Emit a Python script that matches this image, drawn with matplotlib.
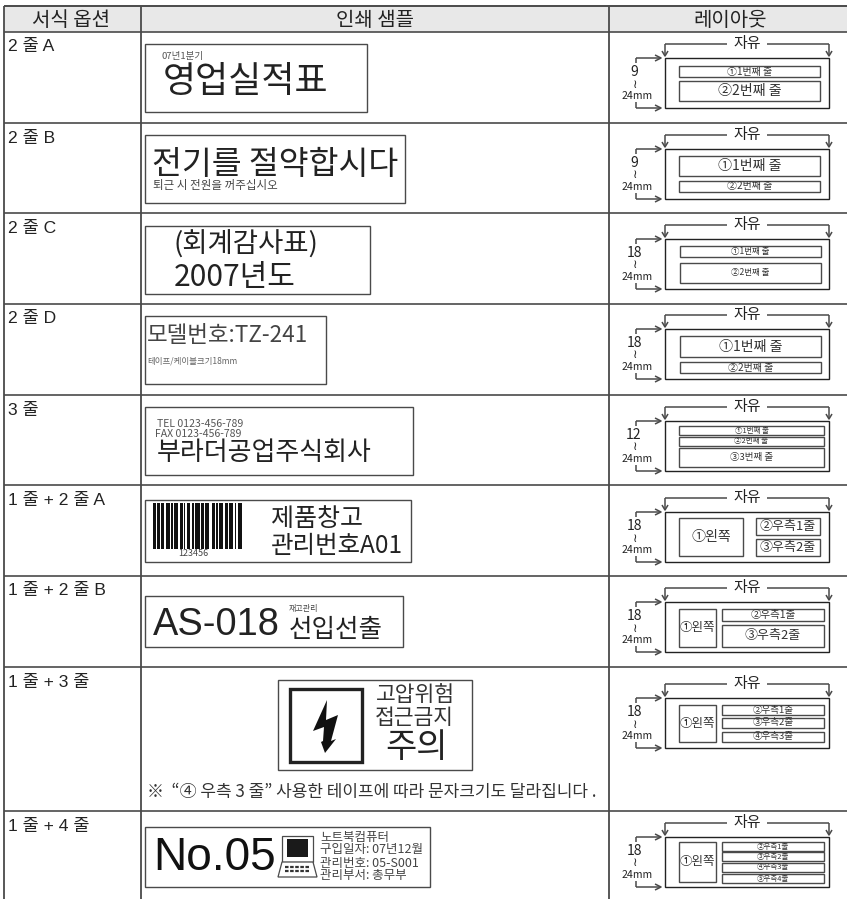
import matplotlib
matplotlib.use("Agg")
import matplotlib.pyplot as plt
from matplotlib.patches import Rectangle, Polygon

plt.rcParams['font.family'] = ['Noto Sans CJK KR', 'DejaVu Sans']

W, H = 847, 899
KR = ['Noto Sans CJK KR', 'DejaVu Sans']
LATIN = ['Liberation Sans', 'Noto Sans CJK KR', 'DejaVu Sans']
LINE = "#4a4a4a"
DARK = "#222222"

# table text
headers = ["서식 옵션", "인쇄 샘플", "레이아웃"]
row_labels = ["2 줄 A", "2 줄 B", "2 줄 C", "2 줄 D", "3 줄",
              "1 줄 + 2 줄 A", "1 줄 + 2 줄 B", "1 줄 + 3 줄", "1 줄 + 4 줄"]
min_sizes = ["9", "9", "18", "18", "12", "18", "18", "18", "18"]
note = "※  “④ 우측 3 줄” 사용한 테이프에 따라 문자크기도 달라집니다 ."
free_label = "자유"
max_size = "24mm"

# sample label text
sample_a = ["07년1분기", "영업실적표"]
sample_b = ["전기를 절약합시다", "퇴근 시 전원을 꺼주십시오"]
sample_c = ["(회계감사표)", "2007년도"]
sample_d = ["모델번호:TZ-241", "테이프/케이블크기18mm"]
sample_3 = ["TEL 0123-456-789", "FAX 0123-456-789", "부라더공업주식회사"]
sample_12a = ["123456", "제품창고", "관리번호A01"]
sample_12b = ["AS-018", "재고관리", "선입선출"]
sample_13 = ["고압위험", "접근금지", "주의"]
sample_14 = ["No.05", "노트북컴퓨터", "구입일자: 07년12월", "관리번호: 05-S001", "관리부서: 총무부"]
# black and white stripes in turn, black first
barcode_bars = [2, 1, 2, 1, 2, 1, 3, 1, 1, 1, 3, 1, 2, 1, 1, 1, 2, 2, 1, 1,
                3, 1, 2, 1, 3, 2, 2, 1, 1, 1, 3, 1, 2, 1, 3, 1, 1, 1, 3]

# layout cell text
layout_a = ["①1번째 줄", "②2번째 줄"]
layout_3 = ["①1번째 줄", "②2번째 줄", "③3번째 줄"]
layout_12 = ["①왼쪽", "②우측1줄", "③우측2줄"]
layout_13 = ["①왼쪽", "②우측1줄", "③우측2줄", "④우측3줄"]
layout_14 = ["①왼쪽", "②우측1줄", "③우측2줄", "④우측3줄", "⑤우측4줄"]

# geometry, pixels
row_lines = [32, 123, 213, 304, 395, 485, 576, 667, 811]
box_tops = [58, 149, 239, 329, 421, 512, 602, 698, 837]

fig = plt.figure(figsize=(W / 100, H / 100), dpi=100)
ax = fig.add_axes([0, 0, 1, 1])
ax.set_xlim(0, W)
ax.set_ylim(H, 0)
ax.axis("off")


def put(x, y, s, size, ha="left", fam=KR, color=DARK, **kw):
    # size is in pixels, matplotlib wants points
    ax.text(x, y, s, fontsize=size * 0.72, ha=ha, va="center", family=fam, color=color, **kw)


def box(x0, y0, x1, y1, lw=1.0, ec=LINE, fc="none", z=2):
    ax.add_patch(Rectangle((x0, y0), x1 - x0, y1 - y0, lw=lw, ec=ec, fc=fc, zorder=z))


def line(xs, ys, lw=1.1, c=LINE):
    ax.plot(xs, ys, color=c, lw=lw, solid_capstyle="butt", zorder=3)


# table frame
ax.add_patch(Rectangle((4, 6), W - 4, 26, fc="#e8e8e8", ec="none", zorder=0))
line([4, W], [6, 6], 1.4)
for y in row_lines:
    line([4, W], [y, y], 1.2)
for x in [4, 141, 609]:
    line([x, x], [6, H], 1.3)

put(71, 20, headers[0], 20, "center")
put(375, 20, headers[1], 20, "center")
put(730, 20, headers[2], 20, "center")
for y, lab in zip(row_lines, row_labels):
    put(8, y + 15, lab, 17.5, fam=LATIN)


# layout column
def layout(top, size, free_x=747):
    bot = top + 50
    box(665, top, 829, bot, lw=1.0, ec="#222222")
    put(free_x, top - 14, free_label, 15, "center")
    line([665, free_x - 20], [top - 14, top - 14])
    line([free_x + 20, 829], [top - 14, top - 14])
    for x in [665, 829]:
        line([x, x], [top - 14, top - 2])
        line([x - 3, x, x + 3], [top - 7, top - 2, top - 7])
    line([636, 636], [top, top + 5])
    line([636, 636], [bot - 6, bot])
    for y in [top, bot]:
        line([636, 660], [y, y])
        line([655, 661, 655], [y - 3, y, y + 3])
    put(634, top + 14, size, 14, "center")
    put(635, top + 26, "≀", 12, "center", fam=['DejaVu Sans'])
    put(637, top + 38, max_size, 10.5, "center")


def cell(top, x0, x1, y0, y1, s, size):
    box(x0, top + y0, x1, top + y1)
    put((x0 + x1) / 2, top + (y0 + y1) / 2, s, size, "center", color="#333333")


for t, s in zip(box_tops, min_sizes):
    layout(t, s)

t = box_tops[0]
cell(t, 679, 820, 8, 19, layout_a[0], 10)
cell(t, 679, 820, 23, 43, layout_a[1], 14)
t = box_tops[1]
cell(t, 679, 820, 7, 27, layout_a[0], 14)
cell(t, 679, 820, 32, 43, layout_a[1], 10)
t = box_tops[2]
cell(t, 680, 821, 7, 18, layout_a[0], 8.5)
cell(t, 680, 821, 24, 44, layout_a[1], 8.5)
t = box_tops[3]
cell(t, 680, 821, 7, 28, layout_a[0], 14)
cell(t, 680, 821, 33, 44, layout_a[1], 10)
t = box_tops[4]
cell(t, 679, 824, 5, 14, layout_3[0], 7.5)
cell(t, 679, 824, 16, 25, layout_3[1], 7.5)
cell(t, 679, 824, 27, 46, layout_3[2], 9.5)
t = box_tops[5]
cell(t, 679, 743, 6, 44, layout_12[0], 14)
cell(t, 756, 820, 6, 23, layout_12[1], 13)
cell(t, 756, 820, 27, 44, layout_12[2], 13)
t = box_tops[6]
cell(t, 679, 716, 7, 45, layout_12[0], 12.5)
cell(t, 722, 824, 7, 19, layout_12[1], 10.5)
cell(t, 722, 824, 23, 45, layout_12[2], 13)
t = box_tops[7]
cell(t, 679, 716, 7, 44, layout_13[0], 12.5)
cell(t, 722, 824, 7, 17, layout_13[1], 9.5)
cell(t, 722, 824, 20, 30, layout_13[2], 9.5)
cell(t, 722, 824, 34, 44, layout_13[3], 9.5)
t = box_tops[8]
cell(t, 679, 716, 5, 45, layout_14[0], 12.5)
cell(t, 722, 824, 5, 14, layout_14[1], 7.5)
cell(t, 722, 824, 15, 24, layout_14[2], 7.5)
cell(t, 722, 824, 26, 35, layout_14[3], 7.5)
cell(t, 722, 824, 37, 46, layout_14[4], 7.5)

# sample column
box(145, 44, 367, 112)
put(161, 56, sample_a[0], 9.5, color="#555555")
put(163, 82, sample_a[1], 36)

box(145, 135, 405, 203)
put(152, 165, sample_b[0], 32.5)
put(153, 186, sample_b[1], 11.5, color="#444444")

box(145, 226, 370, 294)
put(173, 245, sample_c[0], 27.5)
put(174, 278, sample_c[1], 30)

box(145, 316, 326, 384)
put(147, 335, sample_d[0], 22.5, color="#444444")
put(147, 361, sample_d[1], 8.5, color="#666666")

box(145, 407, 413, 475)
put(157, 424, sample_3[0], 10.5, color="#555555")
put(155, 434, sample_3[1], 10.5, color="#555555")
put(157, 452, sample_3[2], 26)

box(145, 500, 411, 562)
bar_x = 153
for i, w in enumerate(barcode_bars):
    if i % 2 == 0:
        ax.add_patch(Rectangle((bar_x, 503), w * 1.41, 46, fc="#111111", ec="none", zorder=2))
    bar_x += w * 1.41
put(193, 553, sample_12a[0], 9, "center", color="#444444")
put(271, 519, sample_12a[1], 25)
put(271, 546, sample_12a[2], 24.5)

box(145, 596, 403, 647)
put(153, 625, sample_12b[0], 38, fam=LATIN)
put(289, 609, sample_12b[1], 8, color="#444444")
put(289, 630, sample_12b[2], 25.5)

box(278, 680, 472, 770)
box(290, 689, 362, 762, lw=2.4, ec="#222222")
ax.add_patch(Polygon([(327, 700), (313, 731), (324, 727), (323, 741), (321, 742),
                      (325, 753), (336, 739), (331, 741), (338, 715), (326, 720)],
                     fc="#111111", ec="none", zorder=3))
put(376, 695, sample_13[0], 21.5, color="#333333")
put(375, 718, sample_13[1], 21.5, color="#333333")
put(385, 748, sample_13[2], 34)
put(147, 792, note, 17, color="#333333")

box(145, 827, 430, 887)
put(153, 858, sample_14[0], 46, fam=LATIN, color="#111111")
# small computer icon
box(282, 836, 313, 862, lw=0.9)
ax.add_patch(Rectangle((287, 839), 21, 18, fc="#1a1a1a", ec="none", zorder=3))
ax.add_patch(Polygon([(282, 862), (313, 862), (317, 877), (278, 877)], fc="white", ec=LINE, lw=0.9, zorder=3))
for ky in [867, 871]:
    ax.plot([285, 310], [ky, ky], color="#333333", lw=1.6, ls=(0, (1.6, 0.7)), zorder=4)
put(320, 838, sample_14[1], 12.5, color="#444444")
put(320, 850, sample_14[2], 12.5, color="#444444")
put(320, 863, sample_14[3], 12.5, color="#444444")
put(320, 875, sample_14[4], 12.5, color="#444444")

fig.savefig("out.png", dpi=100, facecolor="white")
